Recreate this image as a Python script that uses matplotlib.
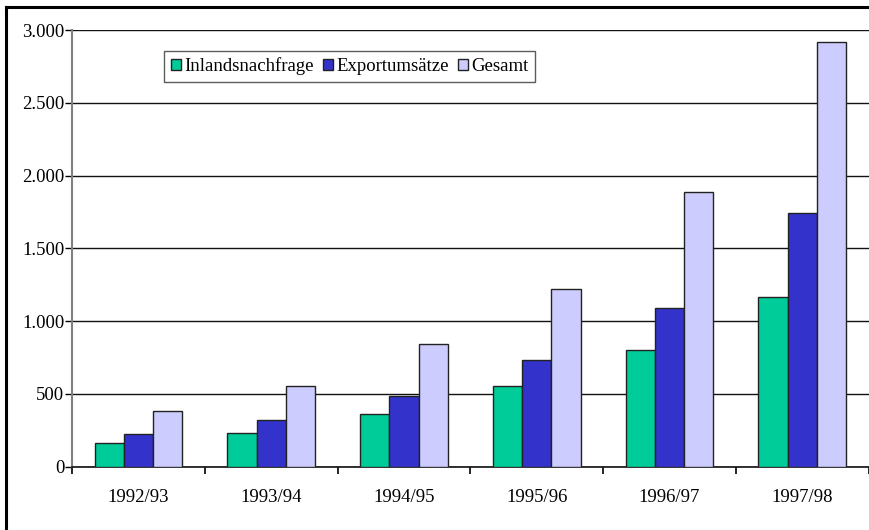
import matplotlib

matplotlib.use("Agg")

import matplotlib.pyplot as plt
import numpy as np
from matplotlib.lines import Line2D
from matplotlib.ticker import FuncFormatter


YEARS = ["1992/93", "1993/94", "1994/95", "1995/96", "1996/97", "1997/98"]
INLAND = [163, 232, 359, 556, 800, 1166]
EXPORT = [223, 322, 483, 733, 1088, 1745]
GESAMT = [381, 556, 841, 1221, 1890, 2919]

SERIES = [
    ("Inlandsnachfrage", INLAND, "#00CC99"),
    ("Exportumsätze", EXPORT, "#3333CC"),
    ("Gesamt", GESAMT, "#CCCCFF"),
]

plt.rcParams["font.family"] = ["Liberation Serif", "DejaVu Serif"]
plt.rcParams["font.size"] = 13.5

fig = plt.figure(figsize=(8.7, 5.3), dpi=100)
ax = fig.add_axes([72 / 870, 1 - 466.7 / 530, 796.7 / 870, 436.7 / 530])

x = np.arange(len(YEARS))
width = 0.22
for i, (label, values, color) in enumerate(SERIES):
    ax.bar(
        x + (i - 1) * width,
        values,
        width=width,
        color=color,
        edgecolor="#222222",
        linewidth=1.0,
        label=label,
        zorder=3,
    )

ax.set_xlim(-0.5, len(YEARS) - 0.5)
ax.set_ylim(0, 3000)
ax.set_yticks(range(0, 3001, 500))
ax.yaxis.set_major_formatter(
    FuncFormatter(lambda v, _: f"{int(v):,}".replace(",", "."))
)
ax.set_xticks(x)
ax.set_xticklabels(YEARS)
ax.set_xticks(np.arange(len(YEARS) + 1) - 0.5, minor=True)
ax.tick_params(axis="x", which="major", length=0, pad=16)
ax.tick_params(axis="x", which="minor", length=5, width=1.2, direction="out")
ax.tick_params(axis="y", length=5, width=1.0, direction="out", pad=0.5)

ax.grid(axis="y", color="#111111", linewidth=1.0, zorder=0)
ax.set_axisbelow(True)
for side in ("top", "right"):
    ax.spines[side].set_visible(False)
ax.spines["left"].set_color("#808080")
ax.spines["left"].set_linewidth(1.5)
ax.spines["bottom"].set_color("#111111")
ax.spines["bottom"].set_linewidth(1.2)

legend = ax.legend(
    ncol=3,
    loc="upper left",
    bbox_to_anchor=((164 - 72) / 796.7, (466.7 - 51) / 436.7),
    frameon=True,
    fancybox=False,
    handlelength=0.55,
    handleheight=0.55,
    handletextpad=0.2,
    columnspacing=0.45,
    borderpad=0.35,
    borderaxespad=0,
)
legend.get_frame().set_edgecolor("#333333")
legend.get_frame().set_linewidth(1.0)

# outer chart frame, partly cut off at right and bottom
fig.add_artist(Line2D([6 / 870, 6 / 870], [0, 1 - 6.5 / 530],
                      transform=fig.transFigure, color="black", linewidth=2.2))
fig.add_artist(Line2D([6 / 870, 1], [1 - 6.5 / 530, 1 - 6.5 / 530],
                      transform=fig.transFigure, color="black", linewidth=2.2))

fig.savefig("out.png", dpi=100)
